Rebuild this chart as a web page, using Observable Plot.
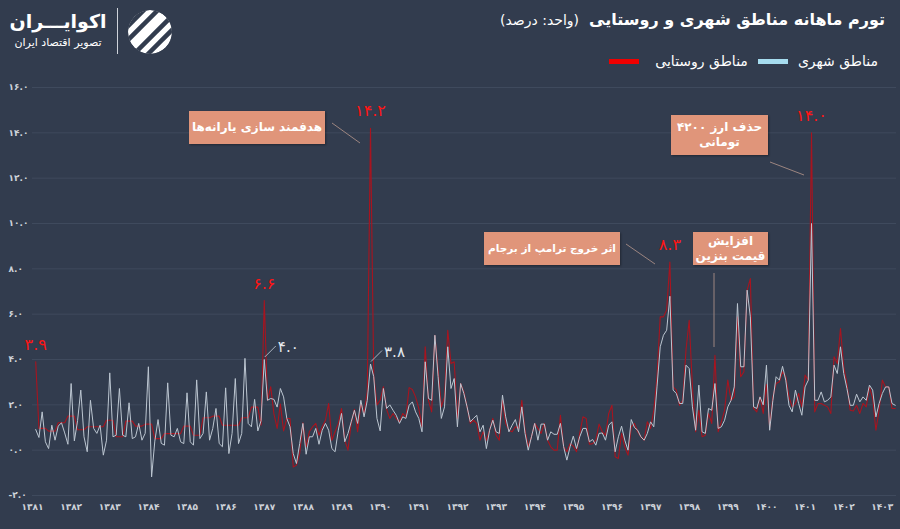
<!DOCTYPE html>
<html><head><meta charset="utf-8">
<script src="https://cdn.jsdelivr.net/npm/d3@7"></script>
<script src="https://cdn.jsdelivr.net/npm/@observablehq/plot@0.6"></script>
<style>
html,body{margin:0;padding:0;background:#323c4e;}
#wrap{position:relative;width:900px;height:529px;overflow:hidden;font-family:"DejaVu Sans",sans-serif;color:#fff;}
#header{position:relative;height:75px;}
#title{position:absolute;right:15px;top:10px;direction:rtl;white-space:nowrap;}
#title .t{font-weight:bold;font-size:16px;}
#title .u{font-size:14px;margin-right:10px;}
#legend{position:absolute;right:22px;top:53px;direction:rtl;font-size:14px;white-space:nowrap;display:flex;align-items:center;}
#legend i{display:inline-block;width:30px;height:5px;margin:0 10px;}
#legend span+i+span{margin-left:6px;}
#logo{position:absolute;left:4px;top:7px;width:108px;text-align:center;direction:rtl;}
#logo .n{font-weight:bold;font-size:19px;line-height:28px;white-space:nowrap;}
#logo .s{font-size:11px;line-height:16px;white-space:nowrap;}
#sep{position:absolute;left:117px;top:8px;width:1px;height:46px;background:#cfd3da;}
#icon{position:absolute;left:125px;top:7px;}
#chart{position:absolute;left:0;top:75px;}
.box{position:absolute;background:#e0957a;color:#fff;font-weight:bold;font-size:12px;line-height:15px;direction:rtl;text-align:center;display:flex;align-items:center;justify-content:center;box-shadow:1px 1px 2px rgba(0,0,0,0.35);white-space:nowrap;}
#over{position:absolute;left:0;top:0;pointer-events:none;}
</style></head><body>
<div id="wrap">
 <div id="header">
  <div id="logo"><div class="n">اکوایـــران</div><div class="s">تصویر اقتصاد ایران</div></div>
  <div id="sep"></div>
  <svg id="icon" width="50" height="50" viewBox="0 0 50 50">
   <defs><clipPath id="cc"><circle cx="25" cy="25" r="22"/></clipPath></defs>
   <g clip-path="url(#cc)">
    <circle cx="25" cy="25" r="22" fill="#ffffff"/>
    <g stroke="#323c4e" stroke-width="4.5">
     <line x1="0" y1="22" x2="30" y2="-8"/>
     <line x1="0" y1="36" x2="44" y2="-8"/>
     <line x1="6" y1="50" x2="56" y2="0"/>
     <line x1="20" y1="50" x2="56" y2="14"/>
    </g>
   </g>
  </svg>
  <div id="title"><span class="t">تورم ماهانه مناطق شهری و روستایی</span><span class="u">(واحد: درصد)</span></div>
  <div id="legend"><span>مناطق شهری</span><i style="background:#a6dcef"></i><span>مناطق روستایی</span><i style="background:#f00000"></i></div>
 </div>
 <div id="chart"></div>
 <div class="box" style="left:189px;top:111px;width:136px;height:33px;">هدفمند سازی یارانه‌ها</div>
 <div class="box" style="left:484px;top:232px;width:136px;height:33px;font-size:10.5px;">اثر خروج ترامپ از برجام</div>
 <div class="box" style="left:693px;top:232px;width:75px;height:33px;">افزایش<br>قیمت بنزین</div>
 <div class="box" style="left:671px;top:115px;width:97px;height:40px;">حذف ارز ۴۲۰۰<br>تومانی</div>
 <svg id="over" width="900" height="529"></svg>
</div>
<script>
// monthly inflation (%), index 0 = Farvardin 1381
const urban = [
0.91,0.56,1.69,0.37,0.07,1.10,0.44,1.06,1.21,0.76,0.26,2.94,
0.41,1.30,2.65,0.59,-0.07,2.20,0.96,0.74,1.10,-0.22,0.44,3.41,
0.59,0.66,2.72,0.66,0.59,2.09,0.51,0.59,1.18,0.44,0.74,3.68,
-1.18,0.40,1.35,0.30,0.22,2.97,0.66,0.59,0.96,0.37,0.29,2.53,
0.37,0.22,3.10,0.51,0.74,2.57,0.44,0.96,1.84,0.29,0.15,2.75,
-0.15,0.74,3.16,0.29,0.74,4.05,1.18,1.03,2.24,0.85,1.30,4.00,
2.20,2.28,2.24,1.90,2.72,2.35,1.40,1.03,-0.15,-0.59,0.29,1.18,
-0.18,0.59,0.59,0.96,0.26,0.88,1.18,0.88,0.07,-0.07,0.88,1.62,
0.37,0.74,1.25,1.76,1.18,2.20,1.47,2.20,3.80,3.24,1.40,0.85,
2.72,1.84,2.00,1.76,1.54,1.18,1.47,1.40,1.98,2.13,1.69,1.40,
0.81,3.90,2.28,2.20,5.07,3.24,1.40,1.91,4.56,2.72,3.16,1.03,
2.94,2.50,1.91,1.25,1.40,1.54,0.81,1.10,0.07,0.88,1.32,0.81,
0.74,2.43,1.47,0.81,1.10,1.35,0.81,1.91,0.74,0.00,0.59,1.18,
0.44,1.15,1.15,0.44,0.81,0.70,0.70,1.18,0.15,-0.44,0.15,0.62,
0.07,0.59,0.96,0.96,0.37,0.47,0.22,0.74,0.76,0.44,1.10,1.25,
-0.07,0.59,1.06,0.44,0.00,1.35,1.00,0.88,0.59,0.44,0.74,1.25,
1.03,2.79,4.56,5.07,5.29,6.79,2.65,2.50,2.06,2.06,3.75,3.60,
1.91,0.88,2.87,0.81,0.74,1.84,1.76,2.94,0.96,1.03,1.32,1.91,
2.20,2.79,6.47,3.68,3.68,7.06,5.88,1.91,1.84,2.35,2.00,3.75,
0.88,2.20,3.24,3.09,3.70,3.09,1.98,1.69,2.65,2.06,1.54,2.79,
3.09,10.0,2.20,2.20,2.57,2.13,2.20,2.35,3.75,3.38,4.56,3.38,
2.72,1.98,1.98,2.47,2.13,2.35,2.20,2.87,2.65,1.47,2.06,2.50,
2.79,2.79,2.06,1.98
];
const rural = [
3.9,0.96,0.96,0.96,0.84,0.84,0.84,1.21,1.21,1.21,1.5,1.5,
1.5,0.9,0.9,0.9,1.03,1.03,1.03,1.03,1.03,1.03,1.32,1.32,
1.32,0.59,0.59,0.59,1.28,1.28,1.28,1.06,1.06,1.06,1.15,1.15,
1.15,0.51,0.51,0.51,0.73,0.73,0.73,0.73,0.73,0.73,1.06,1.06,
1.06,0.66,0.66,0.66,1.43,1.43,1.43,1.5,1.5,1.5,1.1,1.1,
1.1,1.1,1.1,1.1,1.43,1.43,1.43,1.9,1.9,1.9,1.1,6.6,
2.2,2.8,1.6,0.96,2.03,0.85,1.4,1.4,-0.74,-0.66,-0.15,1.21,
0.15,0.81,1.03,1.18,0.66,1.03,1.32,2.06,0.44,0.81,1.18,1.84,
0.44,0.0,1.18,1.8,0.81,2.06,1.62,2.6,14.2,3.3,2.0,2.2,
2.8,1.8,1.4,1.62,1.4,1.25,1.62,1.47,2.76,2.68,2.35,1.84,
1.03,4.56,2.2,1.69,5.07,3.53,1.91,2.35,5.29,3.82,3.9,1.4,
2.94,2.57,1.91,1.18,1.32,1.18,0.44,0.81,0.44,0.88,1.4,0.66,
0.44,2.2,1.18,0.88,0.81,1.03,0.96,2.2,0.88,0.15,0.59,1.18,
0.96,0.74,1.18,0.44,0.15,0.0,0.0,1.54,0.15,-0.07,0.29,0.18,
-0.07,0.74,1.47,1.4,0.26,0.29,0.44,1.15,0.81,0.66,1.62,1.98,
-0.29,-0.37,0.74,0.15,-0.22,1.03,1.18,0.81,0.59,0.44,1.25,0.96,
1.76,3.24,5.88,5.88,6.18,8.3,2.79,2.65,1.98,2.2,4.41,5.73,
2.79,0.81,1.76,0.59,0.66,1.62,1.18,4.19,0.81,1.25,1.76,3.09,
2.2,2.35,5.88,3.24,3.46,7.06,7.57,1.84,1.69,2.35,1.62,2.9,
1.0,2.35,2.94,3.02,3.46,3.24,2.35,1.91,2.06,2.5,1.91,3.31,
3.09,14.0,1.69,2.06,2.06,1.98,1.91,1.62,4.12,3.82,5.37,3.68,
2.94,1.76,1.73,1.98,1.62,2.06,1.91,2.79,2.28,0.88,1.76,3.09,
2.79,2.79,1.84,1.84
];
const years = d3.range(1381, 1404);            // x tick labels
const yTicks = [-2, 0, 2, 4, 6, 8, 10, 12, 14, 16];
const ruralPeaks = [0, 71, 104, 197, 241];     // labelled rural months
const urbanPeaks = [71, 104];                  // labelled urban months

const fa = s => String(s).replace(/\d/g, d => "۰۱۲۳۴۵۶۷۸۹"[d]);
const fmt = v => fa(v.toFixed(1));

const chart = Plot.plot({
  width: 900, height: 454,
  marginTop: 12, marginBottom: 34, marginLeft: 32, marginRight: 4,
  x: {domain: [-1, 267.4], axis: null},
  y: {domain: [-2, 16], axis: null},
  style: {background: "transparent", fontFamily: "DejaVu Sans, sans-serif", overflow: "visible"},
  marks: [
    Plot.ruleY(yTicks, {stroke: "#3f4a5d", strokeWidth: 1}),
    Plot.text(yTicks, {y: d => d, text: d => fmt(d), frameAnchor: "left", dx: -24, textAnchor: "start", fill: "#cdd2d9", fontSize: 9, fontWeight: "bold"}),
    Plot.text(years, {x: d => (d - 1381) * 12 - 1, text: d => fa(d), frameAnchor: "bottom", dy: 14, fill: "#cdd2d9", fontSize: 9, fontWeight: "bold"}),
    Plot.lineY(rural, {x: (d, i) => i, y: d => d, stroke: "#a8141f", strokeWidth: 1.1}),
    Plot.lineY(urban, {x: (d, i) => i, y: d => d, stroke: "#bcc6d1", strokeWidth: 1}),
    Plot.text(ruralPeaks, {x: d => d, y: d => rural[d], text: d => fmt(rural[d]), dy: -17, fill: "#ff1414", fontSize: 16}),
    Plot.text(urbanPeaks, {x: d => d, y: d => urban[d], text: d => fmt(urban[d]), dx: 24, dy: -12, fill: "#e4e9ef", fontSize: 15})
  ]
});
document.getElementById("chart").appendChild(chart);

// leader lines
const sx = chart.scale("x"), sy = chart.scale("y");
const over = d3.select("#over");
const top0 = 75;
urbanPeaks.forEach(m => {
  const x0 = sx.apply(m), y0 = sy.apply(urban[m]) + top0;
  over.append("line").attr("x1", x0 + 1).attr("y1", y0 - 2).attr("x2", x0 + 12).attr("y2", y0 - 13)
    .attr("stroke", "#aab3bf").attr("stroke-width", 1);
});
const leaders = [
  [332, 123, 360, 143],
  [626, 244, 655, 264],
  [714, 273, 714, 347],
  [770, 162, 804, 175]
];
leaders.forEach(([a, b, c, d]) => over.append("line").attr("x1", a).attr("y1", b).attr("x2", c).attr("y2", d)
  .attr("stroke", "#9c8580").attr("stroke-width", 1));
</script>
</body></html>
